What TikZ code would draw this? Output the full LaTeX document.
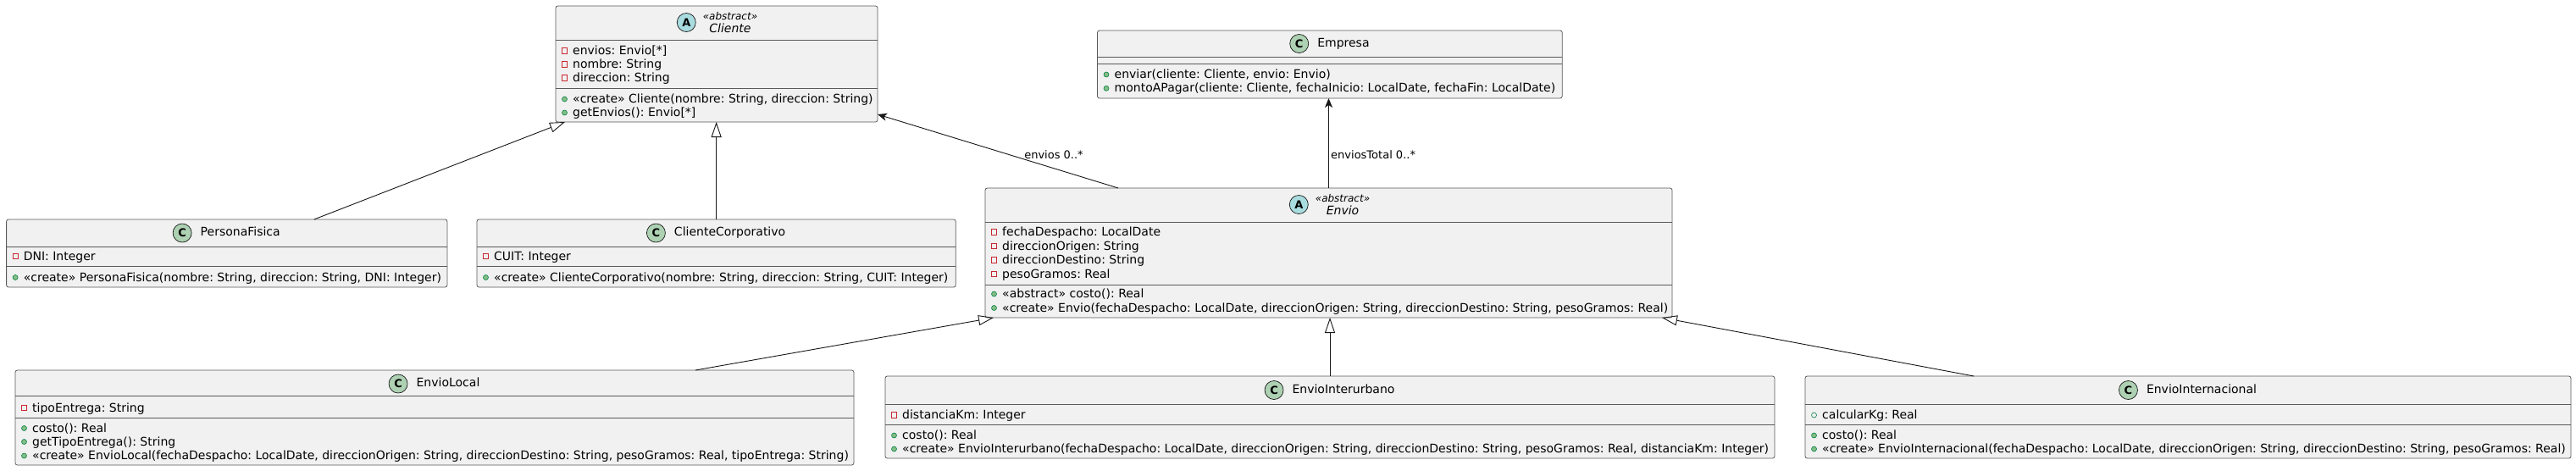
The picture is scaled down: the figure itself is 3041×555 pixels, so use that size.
\documentclass[tikz,border=0pt]{standalone}
\usepackage{fontspec}
\setmainfont{DejaVu Sans}
\frenchspacing
\usetikzlibrary{arrows.meta,positioning}
\definecolor{boxfill}{HTML}{F1F1F1}
\definecolor{boxborder}{HTML}{5A5A5A}
\definecolor{linecol}{HTML}{181818}
\definecolor{cgreen}{HTML}{ADD1B2}
\definecolor{ablue}{HTML}{A9DCDF}
\definecolor{privred}{HTML}{C82930}
\definecolor{pubgreen}{HTML}{84BE84}
\definecolor{pubedge}{HTML}{038048}
\tikzset{
 cls/.style={draw=boxborder, fill=boxfill, line width=0.8pt, rounded corners=2.5pt, inner sep=0pt, outer sep=0pt, anchor=north west},
 divider/.style={draw=boxborder, line width=0.8pt},
 member/.style={inner sep=0pt, font=\frenchspacing\fontsize{14}{16}\selectfont, anchor=base west},
 cname/.style={inner sep=0pt, font=\fontsize{14}{16}\selectfont, text height=10pt, text depth=3pt},
 aname/.style={inner sep=0pt, align=center, font=\fontsize{14}{16}\selectfont},
 circC/.style={circle, draw=linecol, fill=cgreen, minimum size=22pt, inner sep=0pt, line width=0.7pt, font=\bfseries\fontsize{13}{13}\selectfont},
 circA/.style={circC, fill=ablue},
 privic/.style={draw=privred, line width=0.8pt},
 pubic/.style={draw=pubedge, fill=pubgreen, line width=0.6pt},
 pubfic/.style={draw=pubedge, line width=0.6pt},
 inh/.style={draw=linecol, line width=0.9pt, -{Triangle[open, length=18pt, width=12pt]}},
 assoc/.style={draw=linecol, line width=0.9pt, -{Stealth[length=11pt, width=9pt, inset=3pt]}},
 lbl/.style={font=\frenchspacing\fontsize{13}{13}\selectfont, inner sep=0pt},
}
\newcommand\umem[5]{%
 \node[member] (#1) at ({#3+20},{#4+4.5}) {#5};
 \csname uic#2\endcsname{#3+10.5}{#4}}
\newcommand\uicpriv[2]{\draw[privic] ({#1-3.2},{#2-3.2}) rectangle ({#1+3.2},{#2+3.2});}
\newcommand\uicpub[2]{\draw[pubic] ({#1},{#2}) circle[radius=3pt];}
\newcommand\uicpubf[2]{\draw[pubfic] ({#1},{#2}) circle[radius=3pt];}
\newcommand\hdiv[2]{\draw[divider] (#1.west |- 0,#2) -- (#1.east |- 0,#2);}
\begin{document}
\begin{tikzpicture}[x=1pt,y=-1pt]
\fill[white] (0,0) rectangle (3041,555);
\useasboundingbox (0,0) rectangle (3041,555);

% ---------- Cliente ----------
\node[cls, minimum width=380pt, minimum height=137pt] (cl) at (656,7) {};
\hdiv{cl}{47}\hdiv{cl}{104}
\node[aname] (cl-n) at (862,26.5) {{\fontsize{12}{14}\selectfont\itshape «abstract»}\\[-1pt]{\itshape Cliente}};
\node[circA, left=8pt of cl-n] (cl-c) {A};
\umem{cl-a1}{priv}{656}{60}{envios: Envio[*]}
\umem{cl-a2}{priv}{656}{76}{nombre: String}
\umem{cl-a3}{priv}{656}{92}{direccion: String}
\umem{cl-m1}{pub}{656}{117}{«create» Cliente(nombre: String, direccion: String)}
\umem{cl-m2}{pub}{656}{133}{getEnvios(): Envio[*]}

% ---------- Empresa ----------
\node[cls, minimum width=548.7pt, minimum height=80pt] (em) at (1295.5,36) {};
\hdiv{em}{67}\hdiv{em}{75}
\node[cname] (em-n) at (1585.9,51.5) {Empresa};
\node[circC, left=10pt of em-n] (em-c) {C};
\umem{em-m1}{pub}{1295.5}{88}{enviar(cliente: Cliente, envio: Envio)}
\umem{em-m2}{pub}{1295.5}{104.3}{montoAPagar(cliente: Cliente, fechaInicio: LocalDate, fechaFin: LocalDate)}

% ---------- PersonaFisica ----------
\node[cls, minimum width=520.3pt, minimum height=80pt] (pf) at (7.6,259) {};
\hdiv{pf}{291}\hdiv{pf}{314}
\node[cname] (pf-n) at (283.7,275) {PersonaFisica};
\node[circC, left=10pt of pf-n] (pf-c) {C};
\umem{pf-a1}{priv}{7.6}{302.5}{DNI: Integer}
\umem{pf-m1}{pub}{7.6}{327.5}{«create» PersonaFisica(nombre: String, direccion: String, DNI: Integer)}

% ---------- ClienteCorporativo ----------
\node[cls, minimum width=565.3pt, minimum height=80pt] (cc) at (563,259) {};
\hdiv{cc}{291}\hdiv{cc}{314}
\node[cname] (cc-n) at (861.6,275) {ClienteCorporativo};
\node[circC, left=10pt of cc-n] (cc-c) {C};
\umem{cc-a1}{priv}{563}{302.5}{CUIT: Integer}
\umem{cc-m1}{pub}{563}{327.5}{«create» ClienteCorporativo(nombre: String, direccion: String, CUIT: Integer)}

% ---------- Envio ----------
\node[cls, minimum width=811pt, minimum height=153pt] (en) at (1163,222) {};
\hdiv{en}{262}\hdiv{en}{336}
\node[aname] (en-n) at (1585,241.5) {{\fontsize{12}{14}\selectfont\itshape «abstract»}\\[-1pt]{\itshape Envio}};
\node[circA, left=8pt of en-n] (en-c) {A};
\umem{en-a1}{priv}{1163}{274}{fechaDespacho: LocalDate}
\umem{en-a2}{priv}{1163}{290.5}{direccionOrigen: String}
\umem{en-a3}{priv}{1163}{307}{direccionDestino: String}
\umem{en-a4}{priv}{1163}{323.5}{pesoGramos: Real}
\umem{en-m1}{pub}{1163}{347}{«abstract» costo(): Real}
\umem{en-m2}{pub}{1163}{363.5}{«create» Envio(fechaDespacho: LocalDate, direccionOrigen: String, direccionDestino: String, pesoGramos: Real)}

% ---------- EnvioLocal ----------
\node[cls, minimum width=990pt, minimum height=112pt] (el) at (18,437) {};
\hdiv{el}{467}\hdiv{el}{493}
\node[cname] (el-n) at (529,453) {EnvioLocal};
\node[circC, left=10pt of el-n] (el-c) {C};
\umem{el-a1}{priv}{18}{481.5}{tipoEntrega: String}
\umem{el-m1}{pub}{18}{505.5}{costo(): Real}
\umem{el-m2}{pub}{18}{521.5}{getTipoEntrega(): String}
\umem{el-m3}{pub}{18}{538}{«create» EnvioLocal(fechaDespacho: LocalDate, direccionOrigen: String, direccionDestino: String, pesoGramos: Real, tipoEntrega: String)}

% ---------- EnvioInterurbano ----------
\node[cls, minimum width=1050pt, minimum height=97pt] (ei) at (1045,444) {};
\hdiv{ei}{477}\hdiv{ei}{501}
\node[cname] (ei-n) at (1586,460.5) {EnvioInterurbano};
\node[circC, left=10pt of ei-n] (ei-c) {C};
\umem{ei-a1}{priv}{1045}{490}{distanciaKm: Integer}
\umem{ei-m1}{pub}{1045}{514}{costo(): Real}
\umem{ei-m2}{pub}{1045}{530}{«create» EnvioInterurbano(fechaDespacho: LocalDate, direccionOrigen: String, direccionDestino: String, pesoGramos: Real, distanciaKm: Integer)}

% ---------- EnvioInternacional ----------
\node[cls, minimum width=904pt, minimum height=97pt] (ex) at (2131,444) {};
\hdiv{ex}{477}\hdiv{ex}{501}
\node[cname] (ex-n) at (2599,460.5) {EnvioInternacional};
\node[circC, left=10pt of ex-n] (ex-c) {C};
\umem{ex-a1}{pubf}{2131}{490}{calcularKg: Real}
\umem{ex-m1}{pub}{2131}{514}{costo(): Real}
\umem{ex-m2}{pub}{2131}{530}{«create» EnvioInternacional(fechaDespacho: LocalDate, direccionOrigen: String, direccionDestino: String, pesoGramos: Real)}

% ---------- connectors ----------
\draw[inh] ([xshift=103pt]pf.north) -- ([xshift=11pt]cl.south west);
\draw[inh] (cc.north) -- (cc.north |- cl.south);
\draw[assoc] ([xshift=-248.5pt]en.north) -- ([yshift=9pt]cl.south east);
\node[lbl] (lb-envios) at (1244,183) {envios 0..*};
\draw[assoc] (en.north) -- (en.north |- em.south);
\node[lbl, anchor=west] (lb-total) at (1571,183) {enviosTotal 0..*};
\draw[inh] ([xshift=308pt]el.north) -- ([xshift=10pt]en.south west);
\draw[inh] (ei.north) -- (ei.north |- en.south);
\draw[inh] ([xshift=-253pt]ex.north) -- ([xshift=-12pt]en.south east);
\end{tikzpicture}
\end{document}
